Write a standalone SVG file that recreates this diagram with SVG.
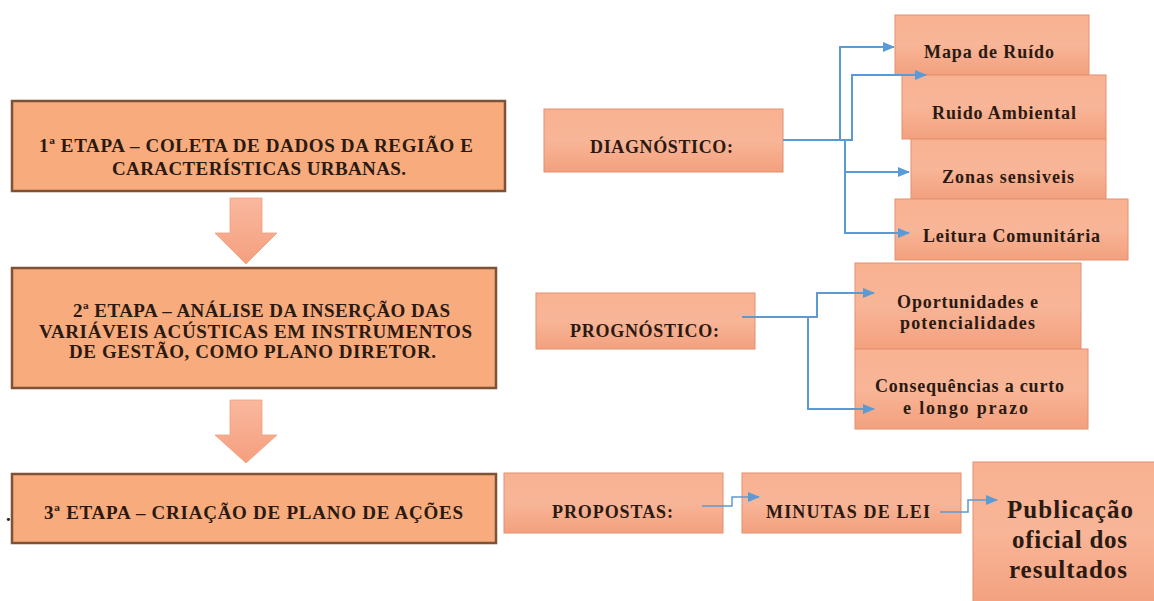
<svg xmlns="http://www.w3.org/2000/svg" width="1154" height="601" viewBox="0 0 1154 601">
<defs>
<linearGradient id="gBox" x1="0" y1="0" x2="0" y2="1">
<stop offset="0" stop-color="#F8B292"/>
<stop offset="0.5" stop-color="#F8B597"/>
<stop offset="1" stop-color="#F3A07E"/>
</linearGradient>
<linearGradient id="gArrow" x1="0" y1="0" x2="0" y2="1">
<stop offset="0" stop-color="#F9B89E"/>
<stop offset="1" stop-color="#F59F7E"/>
</linearGradient>
<marker id="ah" markerWidth="12" markerHeight="10" refX="11" refY="5" orient="auto" markerUnits="userSpaceOnUse">
<path d="M0,0 L12,5 L0,10 Z" fill="#5B9BD5"/>
</marker>
<style>
.stage{fill:#F8AB7C;stroke:#7E5234;stroke-width:2.5}
.box{fill:url(#gBox);stroke:#E2906E;stroke-width:1}
.big{fill:url(#gArrow);stroke:#F0A080;stroke-width:0.8}
text{font-family:"Liberation Serif","Times New Roman",serif;font-weight:bold;fill:#2A1A12}
.t19{font-size:19px}
.t18{font-size:18px}
.t25{font-size:25px}
.con{fill:none;stroke:#5B9BD5;stroke-width:2}
.thin{fill:none;stroke:#5B9BD5;stroke-width:1.5}
</style>
</defs>
<rect width="1154" height="601" fill="#FFFFFF"/>

<g id="etapa1">
<rect class="stage" x="12" y="101" width="493" height="90"/>
<text class="t19" x="39" y="152" textLength="434" lengthAdjust="spacing">1ª ETAPA – COLETA DE DADOS DA REGIÃO E</text>
<text class="t19" x="112" y="175" textLength="294" lengthAdjust="spacing">CARACTERÍSTICAS URBANAS.</text>
</g>

<g id="seta1">
<path class="big" d="M230,198 H262 V233 H277 L246,264 L215,233 H230 Z"/>
</g>

<g id="etapa2">
<rect class="stage" x="12" y="268" width="484" height="120"/>
<text class="t19" x="73" y="317" textLength="377" lengthAdjust="spacing">2ª ETAPA – ANÁLISE DA INSERÇÃO DAS</text>
<text class="t19" x="39" y="338" textLength="433" lengthAdjust="spacing">VARIÁVEIS ACÚSTICAS EM INSTRUMENTOS</text>
<text class="t19" x="69" y="358" textLength="367" lengthAdjust="spacing">DE GESTÃO, COMO PLANO DIRETOR.</text>
</g>

<g id="seta2">
<path class="big" d="M230,400 H262 V435 H277 L246,463 L215,435 H230 Z"/>
</g>

<g id="etapa3">
<text class="t19" x="6" y="521">.</text>
<rect class="stage" x="12" y="474" width="484" height="69"/>
<text class="t19" x="44" y="519" textLength="419" lengthAdjust="spacing">3ª ETAPA – CRIAÇÃO DE PLANO DE AÇÕES</text>
</g>

<g id="diagnostico">
<rect class="box" x="544" y="109" width="239" height="63"/>
<text class="t18" x="590" y="153" textLength="143" lengthAdjust="spacing">DIAGNÓSTICO:</text>
</g>

<g id="mapa">
<rect class="box" x="895" y="15" width="194" height="60"/>
<text class="t18" x="924" y="58" textLength="130" lengthAdjust="spacing">Mapa de Ruído</text>
</g>

<g id="ruido">
<rect class="box" x="902" y="75" width="204" height="64"/>
<text class="t18" x="932" y="119" textLength="144" lengthAdjust="spacing">Ruido Ambiental</text>
</g>

<g id="zonas">
<rect class="box" x="911" y="139" width="195" height="60"/>
<text class="t18" x="942" y="183" textLength="132" lengthAdjust="spacing">Zonas sensiveis</text>
</g>

<g id="leitura">
<rect class="box" x="895" y="199" width="233" height="61"/>
<text class="t18" x="923" y="242" textLength="177" lengthAdjust="spacing">Leitura Comunitária</text>
</g>

<g id="prognostico">
<rect class="box" x="536" y="293" width="219" height="56"/>
<text class="t18" x="570" y="337" textLength="149" lengthAdjust="spacing">PROGNÓSTICO:</text>
</g>

<g id="oportunidades">
<rect class="box" x="855" y="263" width="226" height="86"/>
<text class="t18" x="897" y="308" textLength="141" lengthAdjust="spacing">Oportunidades e</text>
<text class="t18" x="900" y="329" textLength="135" lengthAdjust="spacing">potencialidades</text>
</g>

<g id="consequencias">
<rect class="box" x="855" y="349" width="233" height="80"/>
<text class="t18" x="875" y="392" textLength="189" lengthAdjust="spacing">Consequências a curto</text>
<text class="t18" x="903" y="414" textLength="125" lengthAdjust="spacing">e longo prazo</text>
</g>

<g id="propostas">
<rect class="box" x="504" y="473" width="219" height="60"/>
<text class="t18" x="552" y="518" textLength="121" lengthAdjust="spacing">PROPOSTAS:</text>
</g>

<g id="minutas">
<rect class="box" x="742" y="473" width="219" height="60"/>
<text class="t18" x="766" y="518" textLength="164" lengthAdjust="spacing">MINUTAS DE LEI</text>
</g>

<g id="publicacao">
<rect class="box" x="973" y="462" width="185" height="145"/>
<text class="t25" x="1007" y="518" textLength="126" lengthAdjust="spacing">Publicação</text>
<text class="t25" x="1012" y="548" textLength="115" lengthAdjust="spacing">oficial dos</text>
<text class="t25" x="1009" y="578" textLength="118" lengthAdjust="spacing">resultados</text>
</g>

<g id="connectors">
<path class="con" d="M783,140 H840 V47 H894" marker-end="url(#ah)"/>
<path class="con" d="M783,140 H852 V75 H926" marker-end="url(#ah)"/>
<path class="con" d="M783,140 H845 V172 H909" marker-end="url(#ah)"/>
<path class="con" d="M845,172 V233 H909" marker-end="url(#ah)"/>
<path class="con" d="M742,317 H817 V293 H874" marker-end="url(#ah)"/>
<path class="con" d="M808,317 V409 H874" marker-end="url(#ah)"/>
<path class="thin" d="M702,506 H732 V497 H759" marker-end="url(#ah)"/>
<path class="thin" d="M940,512 H968 V500 H997" marker-end="url(#ah)"/>
</g>
</svg>
